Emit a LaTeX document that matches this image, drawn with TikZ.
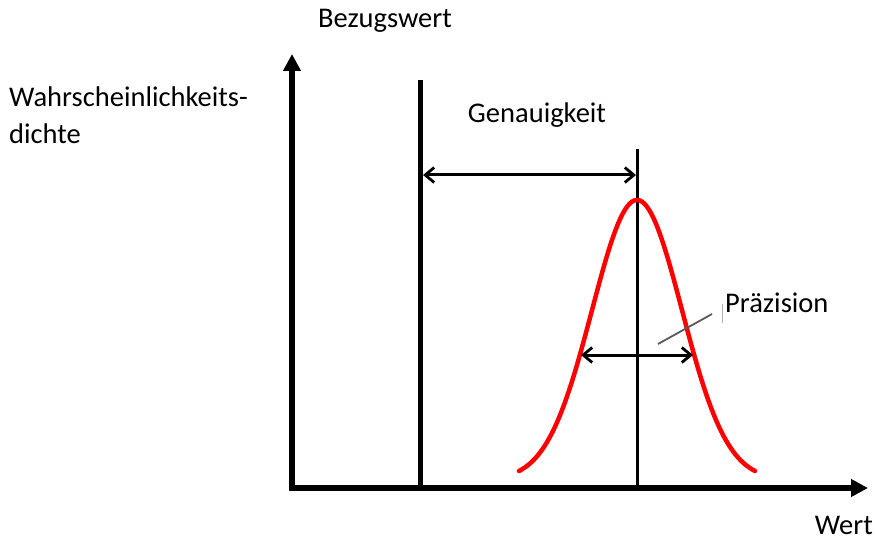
\documentclass[tikz,border=0pt]{standalone}
\usepackage{fontspec}
\setmainfont{Carlito}
\usetikzlibrary{arrows.meta}
\begin{document}
\begin{tikzpicture}[x=1pt,y=1pt,
  axis/.style={line width=5.5pt,-{Triangle[length=17pt,width=17pt]}},
  dimarrow/.style={line width=3pt,{Straight Barb[length=9pt,width=15pt,line width=2.8pt]}-{Straight Barb[length=9pt,width=15pt,line width=2.8pt]}},
  lbl/.style={font=\fontsize{28.5}{32}\selectfont,inner sep=0pt}]
\useasboundingbox (0,0) rectangle (877,-540);
% axes
\coordinate (O) at (290,-488);
\coordinate (ytop) at (292,-54);
\coordinate (xend) at (868,-488);
\draw[axis] (292,-490.7) -- (ytop);
\draw[axis] (289.3,-488) -- (xend);
% reference line
\coordinate (refTop) at (420,-80);
\coordinate (refBot) at (420,-488);
\draw[line width=5pt] (refTop) -- (refBot);
% mean line
\coordinate (meanTop) at (637,-149);
\coordinate (meanBot) at (637,-488);
\draw[line width=3pt] (meanTop) -- (meanBot);
% Gaussian
\draw[red,line width=4.5pt,line cap=round,domain=519:755,samples=120]
  plot (\x,{-480+280*exp(-((\x-637)*(\x-637))/(2*45*45))});
% Genauigkeit arrow
\coordinate (gL) at (423,-175);
\coordinate (gR) at (636,-175);
\draw[dimarrow] (gL) -- (gR);
% Praezision arrow
\coordinate (pL) at (581,-355);
\coordinate (pR) at (693,-355);
\draw[dimarrow] (pL) -- (pR);
% leader
\coordinate (l1) at (658,-344);
\coordinate (l2) at (712,-314);
\draw[gray!70!black,line width=1.8pt] (l1) -- (l2);
\coordinate (t1) at (722,-304);
\coordinate (t2) at (722,-323);
\draw[gray!60,line width=0.9pt] (t1) -- (t2);
% labels
\node[lbl] (bez) at (385,-21) {Bezugswert};
\node[lbl,anchor=west] (wahr) at (9,-97) {Wahrscheinlichkeits-};
\node[lbl,anchor=west] (dichte) at (9,-134) {dichte};
\node[lbl] (gen) at (537,-115) {Genauigkeit};
\node[lbl,anchor=west] (prae) at (725,-303) {Präzision};
\node[lbl,anchor=base east] (wert) at (873,-534) {Wert};
\end{tikzpicture}
\end{document}
